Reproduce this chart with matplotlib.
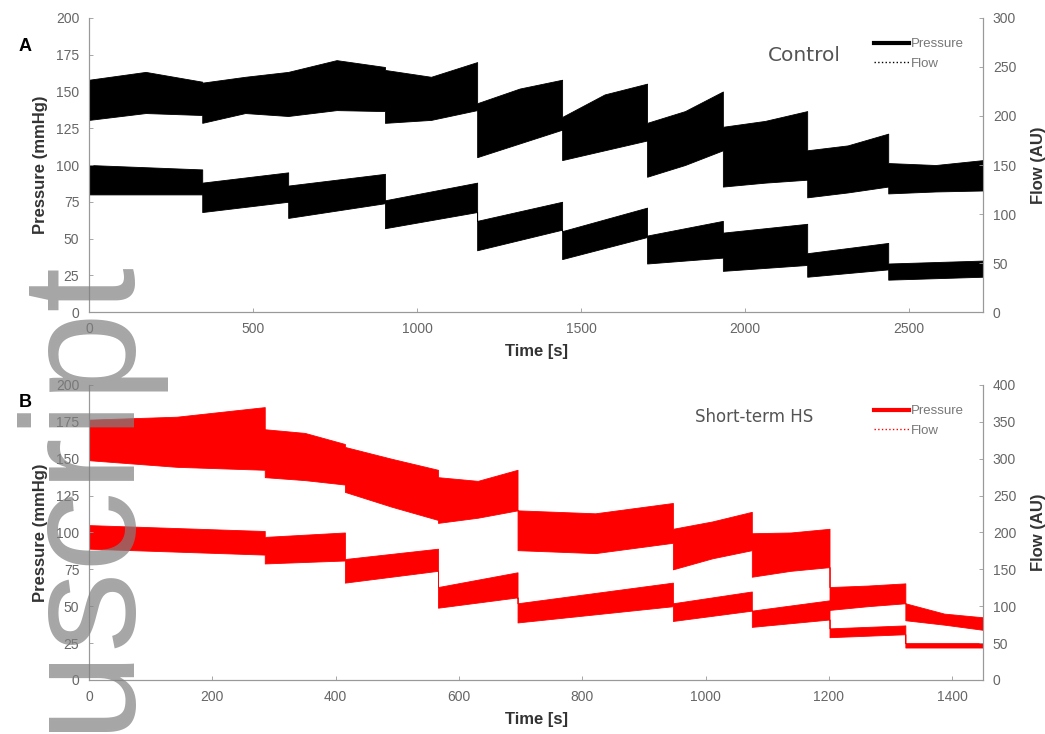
import numpy as np
import matplotlib
matplotlib.use('Agg')
import matplotlib.pyplot as plt
from matplotlib.lines import Line2D

plt.rcParams['font.family'] = ['Liberation Sans', 'DejaVu Sans']

# ---- Panel A: control (time in s, pressure mmHg, flow AU) ----
ctrl_edges = [0, 345, 607, 902, 1183, 1442, 1701, 1932, 2189, 2436, 2725]
# pressure band, (start, end) of each step
ctrl_p_lo = [(80, 80), (68, 75), (64, 74), (57, 68), (42, 56),
             (36, 51), (33, 37), (28, 32), (24, 29), (22, 24)]
ctrl_p_hi = [(100, 97), (88, 95), (86, 94), (76, 88), (62, 75),
             (55, 71), (52, 62), (54, 60), (40, 47), (33, 35)]
# flow band, (start, mid, end) of each step
ctrl_f_lo = [(196, 203, 201), (193, 203, 200), (200, 206, 205), (193, 196, 206),
             (158, 172, 186), (155, 165, 175), (138, 150, 165), (128, 132, 135),
             (117, 122, 128), (121, 123, 124)]
ctrl_f_hi = [(237, 245, 235), (234, 240, 245), (245, 257, 250), (247, 240, 255),
             (213, 228, 237), (199, 222, 233), (193, 205, 225), (189, 195, 205),
             (165, 170, 182), (152, 150, 155)]

# ---- Panel B: short-term HS ----
hs_edges = [0, 285, 415, 566, 695, 947, 1075, 1201, 1324, 1450]
hs_p_lo = [(89, 85), (79, 81), (66, 74), (49, 56), (39, 50),
           (40, 47), (36, 41), (29, 31), (22, 22)]
hs_p_hi = [(105, 101), (97, 100), (82, 89), (63, 73), (52, 66),
           (52, 60), (47, 54), (35, 37), (25, 25)]
hs_f_lo = [(298, 289, 285), (275, 271, 265), (255, 235, 217), (213, 220, 230),
           (176, 172, 186), (150, 165, 176), (140, 148, 153), (95, 100, 104),
           (81, 75, 68)]
hs_f_hi = [(353, 357, 370), (340, 335, 320), (316, 300, 285), (275, 270, 285),
           (230, 226, 240), (205, 215, 228), (199, 200, 205), (126, 128, 131),
           (104, 90, 85)]


def band(edges, lo, hi):
    t, a, b = [], [], []
    for i in range(len(lo)):
        ts = np.linspace(edges[i], edges[i + 1], len(lo[i]))
        t.extend(ts)
        a.extend(lo[i])
        b.extend(hi[i])
    return np.array(t), np.array(a), np.array(b)


def panel(ax, edges, p_lo, p_hi, f_lo, f_hi, color, xmax, xstep, fmax,
          label, label_x, label_y, label_fs):
    ax2 = ax.twinx()
    t, a, b = band(edges, p_lo, p_hi)
    ax.fill_between(t, a, b, color=color, lw=0.6, edgecolor=color)
    t, a, b = band(edges, f_lo, f_hi)
    ax2.fill_between(t, a, b, color=color, lw=0.6, edgecolor=color)

    ax.set_xlim(0, xmax)
    ax.set_ylim(0, 200)
    ax.set_yticks(np.arange(0, 201, 25))
    ax.set_xticks(np.arange(0, xmax, xstep))
    ax2.set_ylim(0, fmax)
    ax2.set_yticks(np.arange(0, fmax + 1, 50))

    for a_ in (ax, ax2):
        a_.spines['top'].set_visible(False)
        for s in a_.spines.values():
            s.set_color('#999999')
            s.set_linewidth(0.8)
        a_.tick_params(direction='in', length=3, width=0.6, color='#999999',
                       labelsize=10, labelcolor='#666666', pad=7)

    ax.set_xlabel('Time [s]', fontsize=12, fontweight='bold', color='#333333', labelpad=6)
    ax.set_ylabel('Pressure (mmHg)', fontsize=12, fontweight='bold', color='#333333', labelpad=6)
    ax2.set_ylabel('Flow (AU)', fontsize=12, fontweight='bold', color='#333333', labelpad=11)

    ax.text(label_x, label_y, label, transform=ax.transAxes,
            ha='center', va='center', fontsize=label_fs, color='#555555', family='DejaVu Sans')
    handles = [Line2D([], [], color=color, lw=3),
               Line2D([], [], color=color, lw=1, ls=':')]
    ax.legend(handles, ['Pressure', 'Flow'], loc='upper right',
              bbox_to_anchor=(0.985, 0.95), frameon=False, fontsize=9.5,
              handlelength=2.6, labelcolor='#777777', borderaxespad=0,
              handletextpad=0.2, labelspacing=0.55)
    return ax2


fig = plt.figure(figsize=(10.45, 7.34), dpi=100)
ax_a = fig.add_axes([0.0852, 0.5749, 0.8555, 0.4006])
ax_b = fig.add_axes([0.0852, 0.0736, 0.8555, 0.4019])

panel(ax_a, ctrl_edges, ctrl_p_lo, ctrl_p_hi, ctrl_f_lo, ctrl_f_hi,
      'black', 2725, 500, 300, 'Control', 0.800, 0.874, 14.5)
panel(ax_b, hs_edges, hs_p_lo, hs_p_hi, hs_f_lo, hs_f_hi,
      '#ff0000', 1450, 200, 400, 'Short-term HS', 0.744, 0.892, 12)

fig.text(0.024, 0.937, 'A', fontsize=13, fontweight='bold', ha='center', va='center')
fig.text(0.024, 0.451, 'B', fontsize=13, fontweight='bold', ha='center', va='center')

# watermark running up the left edge
fig.text(122 / 1045, 1 - 253 / 734, 'Manuscript', rotation=90, rotation_mode='anchor',
         ha='right', va='baseline', fontsize=116, color='#808080', alpha=0.7,
         family='Liberation Sans', zorder=10)

fig.savefig('out.png', dpi=100)
